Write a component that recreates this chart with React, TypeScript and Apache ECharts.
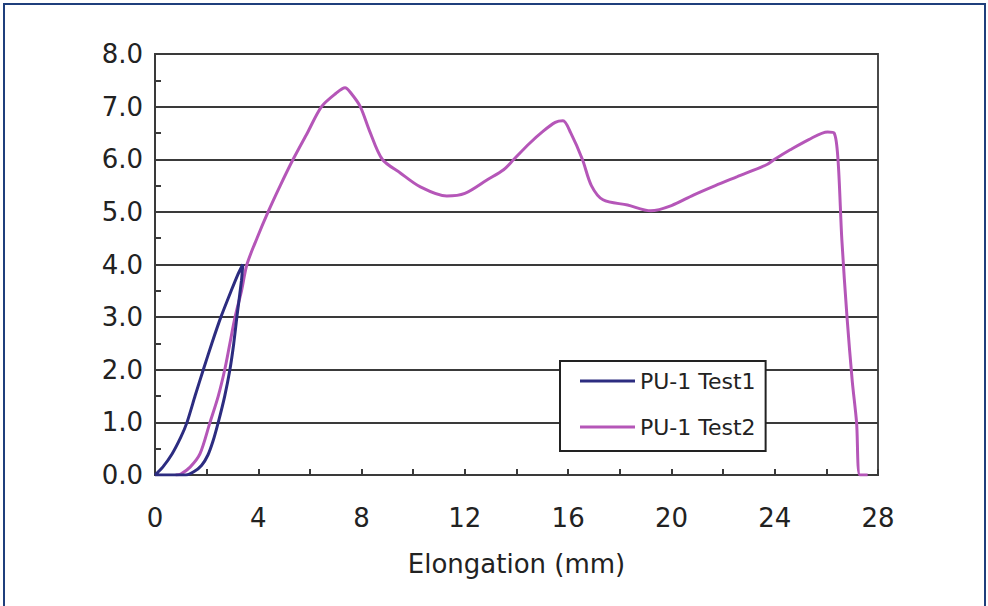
import React, { useEffect, useRef } from "react";
import * as echarts from "echarts";

const xTicks = [0, 4, 8, 12, 16, 20, 24, 28];
const yTicks = [0, 1, 2, 3, 4, 5, 6, 7, 8];

const test1X = [0, 0.3, 0.66, 1.0, 1.24, 1.55, 1.87, 2.2, 2.55, 2.95, 3.2, 3.4, 3.35, 3.17, 3.05, 2.9, 2.7, 2.45, 2.25, 2.05, 1.8, 1.5, 1.2, 0.6, 0];
const test1Y = [0, 0.15, 0.4, 0.72, 1.0, 1.5, 2.0, 2.5, 3.0, 3.5, 3.8, 4.0, 3.7, 3.0, 2.5, 2.0, 1.5, 1.0, 0.65, 0.38, 0.18, 0.06, 0.0, 0.0, 0];

const test2X = [0.8, 1.0, 1.36, 1.74, 2.13, 2.45, 2.7, 2.9, 3.1, 3.35, 3.56, 3.95, 4.38, 4.85, 5.35, 5.9, 6.45, 7.0, 7.36, 7.6, 7.95, 8.3, 8.8, 9.5, 10.26, 11.3, 12.0, 12.87, 13.5, 13.9, 14.5, 15.0, 15.5, 15.8, 16.1, 16.55, 16.9, 17.35, 18.3, 19.2, 20.0, 20.85, 21.7, 22.55, 23.7, 24.0, 24.6, 25.3, 26.05, 26.3, 26.45, 26.6, 26.8, 27.0, 27.17, 27.3, 27.6];
const test2Y = [0, 0.02, 0.15, 0.4, 1.0, 1.5, 2.0, 2.5, 3.0, 3.5, 4.0, 4.5, 5.0, 5.5, 6.0, 6.5, 7.0, 7.25, 7.36, 7.25, 7.0, 6.55, 6.0, 5.74, 5.48, 5.3, 5.35, 5.61, 5.8, 6.0, 6.3, 6.52, 6.7, 6.73, 6.5, 6.0, 5.5, 5.23, 5.13, 5.02, 5.12, 5.32, 5.5, 5.67, 5.9, 6.0, 6.18, 6.37, 6.52, 6.5, 6.0, 4.47, 3.0, 1.8, 1.0, 0, 0];

const seriesNames = ["PU-1 Test1", "PU-1 Test2"];
const xTitle = "Elongation (mm)";

const pairs = (xs: number[], ys: number[]) => xs.map((x, i) => [x, ys[i]]);

export default function App() {
  const ref = useRef<HTMLDivElement>(null);
  useEffect(() => {
    if (!ref.current) return;
    const chart = echarts.init(ref.current, undefined, { renderer: "svg" });
    const font = "DejaVu Sans";
    chart.setOption({
      animation: false,
      backgroundColor: "#ffffff",
      textStyle: { fontFamily: font },
      graphic: [
        {
          type: "rect",
          shape: { x: 4, y: 4, width: 981, height: 620 },
          style: { fill: "none", stroke: "#1f3f7c", lineWidth: 2 },
          silent: true,
        },
      ],
      grid: {
        left: 155,
        right: 110,
        top: 54,
        bottom: 131,
        show: true,
        borderColor: "#4a4a4a",
        borderWidth: 2,
        backgroundColor: "transparent",
      },
      legend: {
        data: seriesNames.map((n) => ({ name: n, icon: "rect" })),
        orient: "vertical",
        left: 560,
        top: 361,
        backgroundColor: "#ffffff",
        borderColor: "#222",
        borderWidth: 2,
        borderRadius: 0,
        padding: [8, 10, 12, 20],
        itemWidth: 55,
        itemHeight: 3,
        itemGap: 22,
        textStyle: { fontSize: 22, color: "#222", fontFamily: font, lineHeight: 24 },
      },
      xAxis: {
        type: "value",
        min: xTicks[0],
        max: xTicks[xTicks.length - 1],
        interval: 4,
        name: xTitle,
        nameLocation: "middle",
        nameGap: 76,
        nameTextStyle: { fontSize: 26, color: "#222", fontFamily: font },
        axisLine: { show: true, onZero: false, lineStyle: { color: "#3a3a3a", width: 2 } },
        axisTick: { show: true, inside: true, length: 6, lineStyle: { color: "#3a3a3a", width: 2 } },
        minorTick: { show: true, splitNumber: 2, length: 6, lineStyle: { color: "#3a3a3a", width: 2 } },
        axisLabel: { fontSize: 26, color: "#222", margin: 30, fontFamily: font },
        splitLine: { show: false },
      },
      yAxis: {
        type: "value",
        min: yTicks[0],
        max: yTicks[yTicks.length - 1],
        interval: 1,
        axisLine: { show: true, lineStyle: { color: "#3a3a3a", width: 2 } },
        axisTick: { show: true, inside: true, length: 6, lineStyle: { color: "#3a3a3a", width: 2 } },
        minorTick: { show: true, splitNumber: 2, length: 6, lineStyle: { color: "#3a3a3a", width: 2 } },
        axisLabel: {
          fontSize: 26,
          color: "#222",
          margin: 12,
          fontFamily: font,
          formatter: (v: number) => v.toFixed(1),
        },
        splitLine: { show: true, lineStyle: { color: "#3a3a3a", width: 2 } },
      },
      series: [
        {
          name: seriesNames[0],
          type: "line",
          data: pairs(test1X, test1Y),
          symbol: "none",
          smooth: 0.2,
          lineStyle: { color: "#2c2c80", width: 3 },
          itemStyle: { color: "#2c2c80" },
          z: 3,
        },
        {
          name: seriesNames[1],
          type: "line",
          data: pairs(test2X, test2Y),
          symbol: "none",
          smooth: 0.3,
          lineStyle: { color: "#b556b8", width: 3 },
          itemStyle: { color: "#b556b8" },
          z: 2,
        },
      ],
    });
    return () => chart.dispose();
  }, []);
  return (
    <div
      ref={ref}
      style={{ position: "absolute", left: 0, top: 0, width: 988, height: 606 }}
    />
  );
}
